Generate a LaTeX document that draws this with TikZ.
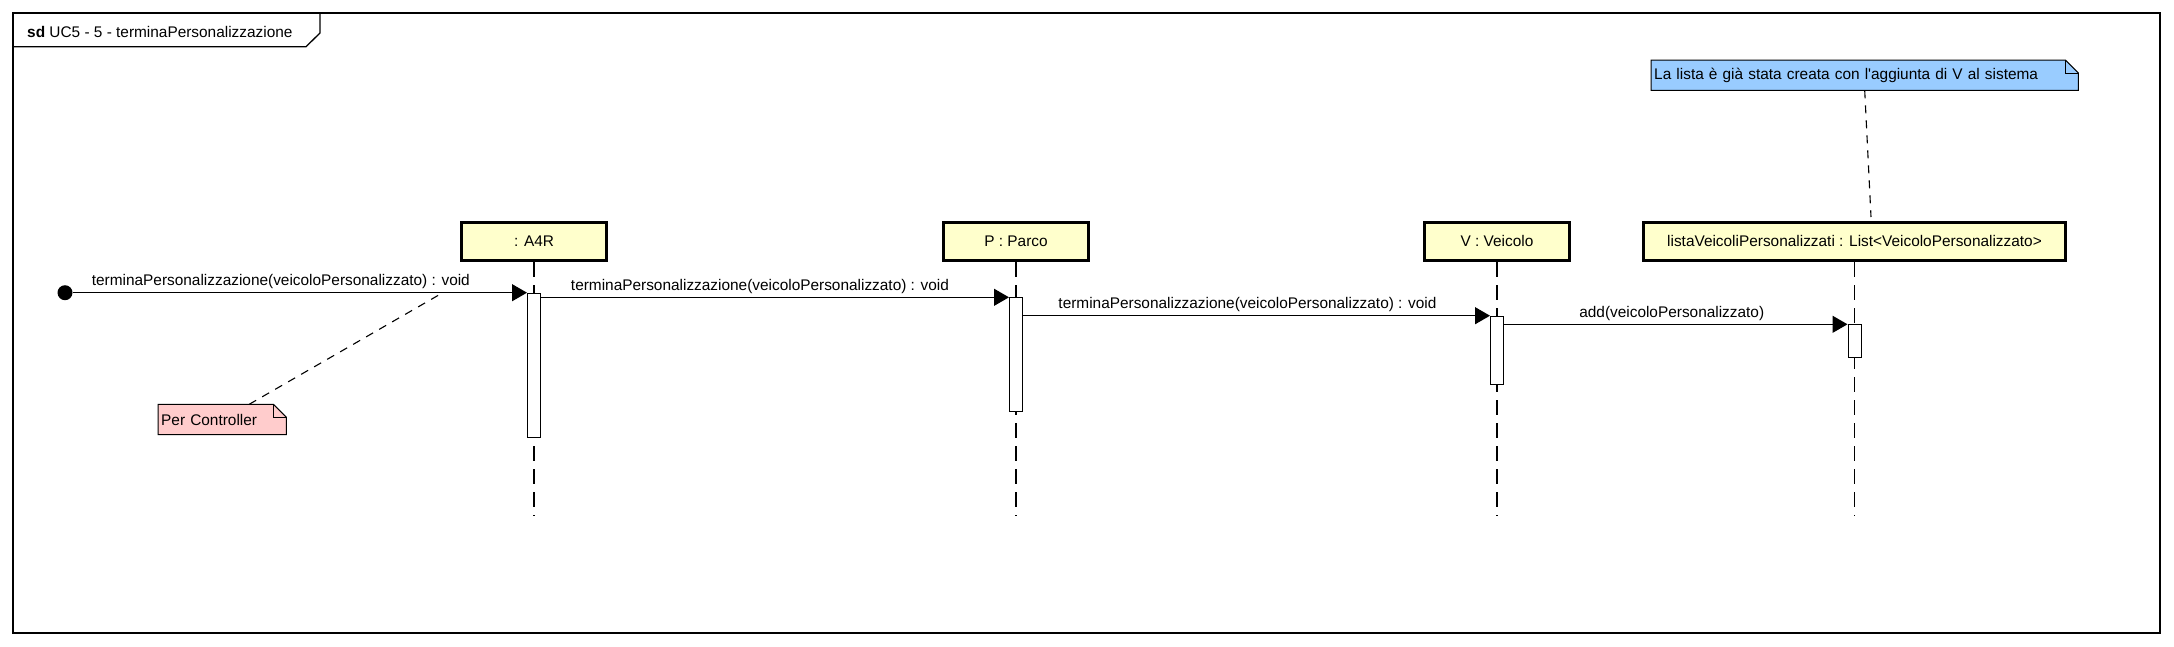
\documentclass[tikz,border=0pt]{standalone}
\usepackage{fontspec}
\setmainfont{Liberation Sans}
\usetikzlibrary{arrows.meta,backgrounds}
\definecolor{boxyellow}{RGB}{255,255,204}
\definecolor{notepink}{RGB}{255,204,204}
\definecolor{noteblue}{RGB}{153,204,255}
\tikzset{
	obj/.style={draw,line width=3pt,fill=boxyellow,minimum height=38.5pt,minimum width=145pt,inner sep=0pt},
	act/.style={draw,line width=1pt,fill=white,minimum width=13pt,inner sep=0pt,anchor=north},
	lifeline/.style={line width=1.3pt,dash pattern=on 15pt off 8pt},
	msg/.style={line width=1.2pt,-{Triangle[length=15pt,width=17pt]}},
	lbl/.style={above=2pt,inner sep=1.5pt},
	note/.style={anchor=north west,inner sep=3pt,align=left,minimum height=30pt},
	noteline/.style={line width=1.1pt,dash pattern=on 8pt off 7pt},
}
% note with folded corner, drawn behind its text
\newcommand{\notefold}[2]{%
	\begin{scope}[on background layer]
		\filldraw[fill=#2,line width=1pt] (#1.south west) -- (#1.north west) -- ([xshift=-13pt]#1.north east) -- ([yshift=-13pt]#1.north east) -- (#1.south east) -- cycle;
		\draw[line width=1pt] ([xshift=-13pt]#1.north east) |- ([yshift=-13pt]#1.north east);
	\end{scope}}
\begin{document}
\begin{tikzpicture}[x=1pt,y=-1pt,every node/.style={font=\fontsize{15.4}{18}\selectfont}]
		\useasboundingbox (0,0) rectangle (2174,646);
		% frame
		\draw[line width=1.3pt] (13,13) rectangle (2160,633);
		\draw[line width=1.3pt] (13,46.7) -- (306,46.7) -- (320,33) -- (320,13);
		\node[anchor=base west,inner sep=0pt] (title) at (27,37) {\textbf{sd} UC5 - 5 - terminaPersonalizzazione};
		% objects
		\node[obj] (a4r) at (534,241.3) {: A4R};
		\node[obj] (parco) at (1016,241.3) {P : Parco};
		\node[obj] (veicolo) at (1497,241.3) {V : Veicolo};
		\node[obj,minimum width=422pt] (lista) at (1854.5,241.3) {listaVeicoliPersonalizzati : List<VeicoloPersonalizzato>};
		% lifelines
		\foreach \o in {a4r,parco,veicolo,lista}
			\draw[lifeline] (\o.south) -- (\o.south |- 0,516);
		% activations
		\node[act,minimum height=144.3pt] (actA) at (a4r |- 0,292.7) {};
		\node[act,minimum height=113.7pt] (actP) at (parco |- 0,297.3) {};
		\node[act,minimum height=68.3pt] (actV) at (veicolo |- 0,315.7) {};
		\node[act,minimum height=33pt] (actL) at (lista |- 0,324.3) {};
		% messages
		\node[circle,fill=black,minimum size=15pt,inner sep=0pt] (start) at (65,292.7) {};
		\draw[msg] (start) -- (actA.north west) node[lbl,midway,xshift=-19pt] (m1) {terminaPersonalizzazione(veicoloPersonalizzato) : void};
		\draw[msg] (actA.east |- actP.north) -- (actP.north west) node[lbl,midway,xshift=-15pt] (m2) {terminaPersonalizzazione(veicoloPersonalizzato) : void};
		\draw[msg] (actP.east |- actV.north) -- (actV.north west) node[lbl,midway,xshift=-9pt] (m3) {terminaPersonalizzazione(veicoloPersonalizzato) : void};
		\draw[msg] (actV.east |- actL.north) -- (actL.north west) node[lbl,midway,xshift=-4pt] (m4) {add(veicoloPersonalizzato)};
		% notes
		\node[note,text width=122pt] (ctrlnote) at (158,404.3) {Per Controller};
		\notefold{ctrlnote}{notepink}
		\coordinate (m1end) at (440,294.3);
		\draw[noteline] ([xshift=27pt]ctrlnote.north) -- (m1end);
		\node[note,text width=421pt] (listnote) at (1651,60) {La lista è già stata creata con l\textquotesingle aggiunta di V al sistema};
		\notefold{listnote}{noteblue}
		\coordinate (listend) at (1871,217);
		\draw[noteline] (listnote.south) -- (listend);
\end{tikzpicture}
\end{document}
